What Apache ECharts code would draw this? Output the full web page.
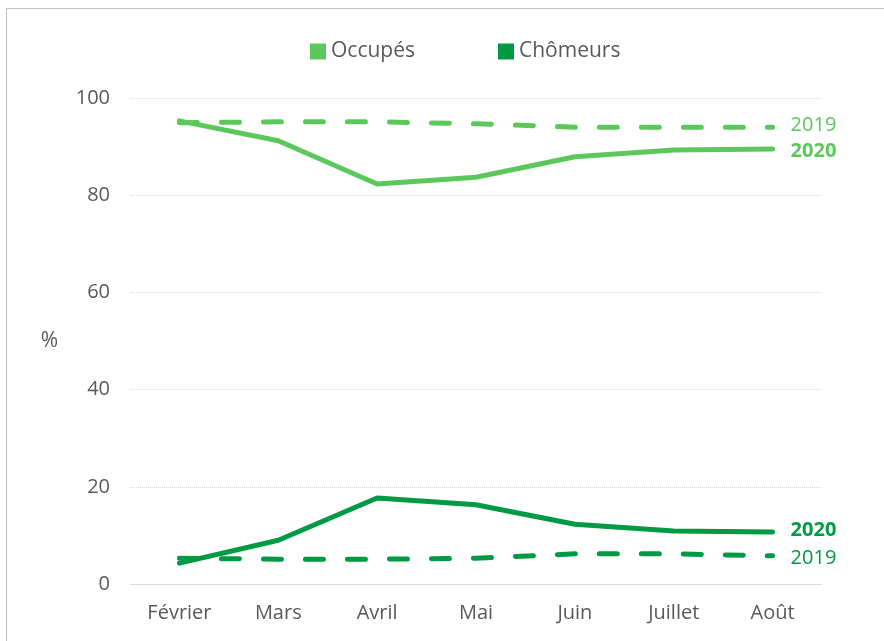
<!DOCTYPE html>
<html lang="fr">
<head>
  <meta charset="UTF-8">
  <title>Occupés et chômeurs</title>
  <script src="https://cdn.jsdelivr.net/npm/echarts@6/dist/echarts.min.js"></script>
  <style>
    html, body { margin: 0; padding: 0; background: #fff; }
    #main { width: 884px; height: 641px; }
  </style>
</head>
<body>
<div id="main"></div>
<script>
  var months = ['Février', 'Mars', 'Avril', 'Mai', 'Juin', 'Juillet', 'Août']
  var occupes2020 = [95.3, 91.2, 82.3, 83.7, 87.9, 89.3, 89.5]
  var occupes2019 = [94.9, 95.1, 95.1, 94.7, 94.0, 94.0, 94.0]
  var chomeurs2020 = [4.3, 9.0, 17.7, 16.3, 12.3, 10.9, 10.7]
  var chomeurs2019 = [5.3, 5.1, 5.1, 5.3, 6.2, 6.2, 5.8]

  var light = '#5CC85C'
  var dark = '#009A44'
  var font = 'Open Sans, Noto Sans, sans-serif'

  function line(name, data, color, dashed, label, dy) {
    return {
      name: name,
      type: 'line',
      data: data,
      symbol: 'none',
      color: color,
      lineStyle: {
        color: color,
        width: 5,
        type: dashed ? [18, 24] : 'solid',
        cap: 'round'
      },
      endLabel: {
        show: true,
        formatter: label,
        color: color,
        fontFamily: font,
        fontSize: 20,
        fontWeight: dashed ? 'normal' : 'bold',
        distance: 18,
        offset: [0, dy]
      },
      emphasis: { disabled: true }
    }
  }

  var chart = echarts.init(document.getElementById('main'))
  chart.setOption({
    animation: false,
    graphic: [{
      type: 'rect',
      shape: { x: 6.5, y: 8.5, width: 900, height: 700 },
      style: { fill: 'none', stroke: '#BFBFBF', lineWidth: 1 },
      silent: true
    }],
    legend: {
      top: 36,
      left: 305,
      data: ['Occupés', 'Chômeurs'],
      icon: 'rect',
      itemWidth: 16,
      itemHeight: 16,
      itemGap: 83,
      textStyle: { color: '#595959', fontFamily: font, fontSize: 21 }
    },
    grid: { left: 130, right: 62, top: 98, bottom: 57 },
    xAxis: {
      type: 'category',
      data: months,
      boundaryGap: true,
      axisLine: { lineStyle: { color: '#D9D9D9' } },
      axisTick: { show: false },
      axisLabel: { color: '#595959', fontFamily: font, fontSize: 20, margin: 19 }
    },
    yAxis: {
      type: 'value',
      min: 0,
      max: 100,
      interval: 20,
      name: '%',
      nameLocation: 'middle',
      nameRotate: 0,
      nameGap: 72,
      nameTextStyle: { color: '#595959', fontFamily: font, fontSize: 21 },
      axisLine: { show: false },
      axisTick: { show: false },
      axisLabel: { color: '#595959', fontFamily: font, fontSize: 20, margin: 20 },
      splitLine: { lineStyle: { color: '#D9D9D9', type: 'dotted', width: 1 } }
    },
    series: [
      line('Occupés 2019', occupes2019, light, true, '2019', -2),
      line('Occupés', occupes2020, light, false, '2020', 2),
      line('Chômeurs', chomeurs2020, dark, false, '2020', -2),
      line('Chômeurs 2019', chomeurs2019, dark, true, '2019', 2)
    ]
  })
</script>
</body>
</html>
